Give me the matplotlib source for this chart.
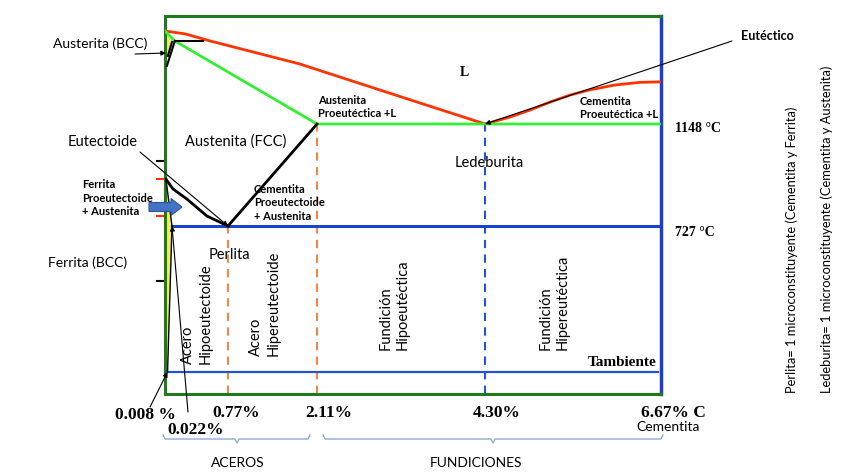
import numpy as np
import matplotlib
matplotlib.use("Agg")
import matplotlib.pyplot as plt
from matplotlib.patches import FancyArrow
from matplotlib.lines import Line2D
from matplotlib.transforms import blended_transform_factory

plt.rcParams['font.family'] = ['Lato', 'DejaVu Sans']

W, H = 848, 477

# --- data (wt% C, temperature in C) ---
liq_left_c = [0.0, 0.20, 0.53, 1.85, 3.09, 4.30]
liq_left_t = [1532, 1520, 1491, 1396, 1272, 1148]
liq_right_c = [4.30, 4.64, 4.91, 5.18, 5.45, 5.71, 6.05, 6.39, 6.67]
liq_right_t = [1148, 1177, 1206, 1239, 1268, 1289, 1309, 1320, 1322]
sol_c = [0.0, 0.06, 2.11, 6.67]
sol_t = [1532, 1491, 1148, 1148]
perit_c = [0.06, 0.44]
perit_t = [1491, 1491]
delta_a_c = [0.06, 0.006]
delta_a_t = [1491, 1388]
delta_b_c = [0.022, 0.009]
delta_b_t = [1487, 1429]
a3_c = [0.003, 0.035, 0.222, 0.489, 0.77]
a3_t = [920, 880, 838, 768, 727]
acm_c = [0.77, 2.11]
acm_t = [727, 1148]
ferrite_c = [0.003, 0.022, 0.008]
ferrite_t = [920, 727, 25]

C_ALPHA_AMB = 0.008
C_ALPHA_MAX = 0.022
C_EUTECTOID = 0.77
C_GAMMA_MAX = 2.11
C_EUTECTIC = 4.30
C_CEMENT = 6.67
C_AMB_END = 6.63
T_AMB = 25
T_EUTECTOID = 727
T_EUTECTIC = 1148

tick_t = [462, 768, 920, 995]
tick_colors = ['black', '#ff3300', '#ff3300', 'black']

# schematic (piecewise) axes, as in the original drawing
x_anchor = [0, 0.022, 0.77, 2.11, 4.30, 6.67]
x_frac = np.array([0, 7, 63, 152, 320, 496]) / 496
y_anchor = [0, 25, 727, 1148, 1594]
y_frac = np.array([0, 22, 168, 270, 378]) / 378

def fwd_x(v): return np.interp(v, x_anchor, x_frac)
def inv_x(v): return np.interp(v, x_frac, x_anchor)
def fwd_y(v): return np.interp(v, y_anchor, y_frac)
def inv_y(v): return np.interp(v, y_frac, y_anchor)

RED = '#ff3300'
GREEN = '#33ee33'
BLUE = '#1a44cc'
ORANGE = '#f0884a'
BORDER = '#1f7a1f'

fig = plt.figure(figsize=(W / 100, H / 100), dpi=100)
ax = fig.add_axes([165 / W, 1 - 395 / H, 496 / W, 378 / H])
ax.set_xscale('function', functions=(fwd_x, inv_x))
ax.set_yscale('function', functions=(fwd_y, inv_y))
ax.set_xlim(0, C_CEMENT)
ax.set_ylim(0, 1594)

# phase fields
ax.fill([0] + ferrite_c + [0], [920] + ferrite_t + [25], color='#eeee55', lw=0, zorder=1)
ax.fill([0, 0.022, 0.009, 0], [1530, 1487, 1429, 1429], color='#eeee55', lw=0, zorder=1)

ax.plot(liq_left_c, liq_left_t, color=RED, lw=2, zorder=3)
ax.plot(liq_right_c, liq_right_t, color=RED, lw=2, zorder=3)
ax.plot(sol_c, sol_t, color=GREEN, lw=2, zorder=3)
ax.plot(perit_c, perit_t, color='black', lw=1.5, zorder=4)
ax.plot(delta_a_c, delta_a_t, color='black', lw=1.5, zorder=4)
ax.plot(delta_b_c, delta_b_t, color='black', lw=1.5, zorder=4)
ax.plot(a3_c, a3_t, color='black', lw=2, zorder=4)
ax.plot(acm_c, acm_t, color='black', lw=2, zorder=4)
ax.plot(ferrite_c, ferrite_t, color='black', lw=1, zorder=4)

ax.plot([C_ALPHA_MAX, C_CEMENT], [T_EUTECTOID, T_EUTECTOID], color=BLUE, lw=2.2, zorder=3)
ax.plot([C_ALPHA_AMB, C_AMB_END], [T_AMB, T_AMB], color='#2255cc', lw=1.6, zorder=3)

ax.plot([C_EUTECTOID, C_EUTECTOID], [0, T_EUTECTOID], color=ORANGE, lw=1.5, ls=(0, (4, 3)), zorder=2)
ax.plot([C_GAMMA_MAX, C_GAMMA_MAX], [0, T_EUTECTIC], color=ORANGE, lw=1.5, ls=(0, (4, 3)), zorder=2)
ax.plot([C_EUTECTIC, C_EUTECTIC], [0, T_EUTECTIC], color='#2255dd', lw=1.5, ls=(0, (4, 3)), zorder=2)

# axes frame and ticks
for s in ['left', 'top', 'bottom']:
    ax.spines[s].set_color(BORDER)
    ax.spines[s].set_linewidth(2.2)
ax.spines['right'].set_color('#1a3fcf')
ax.spines['right'].set_linewidth(2.5)
ax.set_xticks([])
ax.set_yticks([])
tick_tr = blended_transform_factory(ax.transAxes, ax.transData)
for t, c in zip(tick_t, tick_colors):
    ax.plot([-8 / 496, -1 / 496], [t, t], color=c, lw=1.5, transform=tick_tr, clip_on=False)


def fp(x, y):
    return (x / W, 1 - y / H)


def ftext(x, y, s, **kw):
    kw.setdefault('va', 'center')
    fig.text(x / W, 1 - y / H, s, **kw)


def arrow(xy, xytext, xycoords='data'):
    ax.annotate('', xy=xy, xycoords=xycoords, xytext=fp(*xytext), textcoords='figure fraction',
                arrowprops=dict(arrowstyle='-|>', color='black', lw=0.8, mutation_scale=7,
                                shrinkA=0, shrinkB=0), annotation_clip=False)


serif = ['Liberation Serif', 'DejaVu Serif']

ftext(53, 44, 'Austerita (BCC)', fontsize=10)
arrow(fp(166, 54), (135, 55), xycoords='figure fraction')
ftext(68, 142, 'Eutectoide', fontsize=10.5)
arrow((C_EUTECTOID, T_EUTECTOID), (140, 153))
ftext(82, 198, 'Ferrita\nProeutectoide\n+ Austenita', fontsize=8, fontweight='bold', linespacing=1.3)
ftext(185, 142, 'Austenita (FCC)', fontsize=10.5)
ftext(254, 203, 'Cementita\nProeutectoide\n+ Austenita', fontsize=8, fontweight='bold', linespacing=1.3)
ftext(318, 107, 'Austenita\nProeutéctica +L', fontsize=8, fontweight='bold', linespacing=1.3)
ftext(464, 73, 'L', fontsize=10, fontweight='bold', family=serif, ha='center')
ftext(580, 108, 'Cementita\nProeutéctica +L', fontsize=8, fontweight='bold', linespacing=1.3)
ftext(455, 163, 'Ledeburita', fontsize=10.5)
ftext(741, 36, 'Eutéctico', fontsize=9, fontweight='bold')
arrow((C_EUTECTIC, T_EUTECTIC), (732, 42))
ftext(675, 129, '1148 °C', fontsize=10, fontweight='bold', family=serif)
ftext(675, 233, '727 °C', fontsize=10, fontweight='bold', family=serif)
ftext(209, 255, 'Perlita', fontsize=10.5)
ftext(48, 263, 'Ferrita (BCC)', fontsize=10)

rot = dict(rotation=90, ha='center', va='bottom', multialignment='left', fontsize=10.5, linespacing=1.3)
ftext(197, 364, 'Acero\nHipoeutectoide', **rot)
ftext(265, 356, 'Acero\nHipereutectoide', **rot)
ftext(394, 350, 'Fundición\nHipoeutéctica', **rot)
ftext(554, 350, 'Fundición\nHipereutéctica', **rot)

ftext(588, 362, 'Tambiente', fontsize=11, fontweight='bold', family=serif)

bold_serif = dict(fontsize=12.5, fontweight='bold', family=serif)
ftext(115, 415, '0.008 %', **bold_serif)
arrow((C_ALPHA_AMB, T_AMB), (150, 408))
ftext(167, 430, '0.022%', **bold_serif)
arrow((C_ALPHA_MAX, T_EUTECTOID), (188, 413))
ftext(212, 413, '0.77%', **bold_serif)
ftext(305, 413, '2.11%', **bold_serif)
ftext(473, 413, '4.30%', **bold_serif)
ftext(641, 413, '6.67% C', **bold_serif)
ftext(636, 427, 'Cementita', fontsize=10)

# brackets
for x0, xm, x1 in [(163, 237, 310), (323, 493, 663)]:
    xs = [x0, x0 + 2, xm - 2, xm, xm + 2, x1 - 2, x1]
    ys = [436, 440, 440, 444, 440, 440, 436]
    fig.add_artist(Line2D([x / W for x in xs], [1 - y / H for y in ys],
                          transform=fig.transFigure, color='#8eaadb', lw=1))
ftext(238, 463, 'ACEROS', fontsize=10, ha='center')
ftext(476, 463, 'FUNDICIONES', fontsize=10, ha='center')

side = dict(rotation=90, ha='center', va='bottom', fontsize=9.3)
ftext(792, 393, 'Perlita= 1 microconstituyente (Cementita y Ferrita)', **side)
ftext(827, 393, 'Ledeburita= 1 microconstituyente (Cementita y Austenita)', **side)

# blue block arrow
fig.add_artist(FancyArrow(149 / W, 1 - 208 / H, 33 / W, 0, width=9 / H, head_width=17 / H,
                          head_length=11 / W, length_includes_head=True,
                          transform=fig.transFigure, fc='#4472c4', ec='#2f5597', lw=0.8))

fig.savefig('out.png', dpi=100)
